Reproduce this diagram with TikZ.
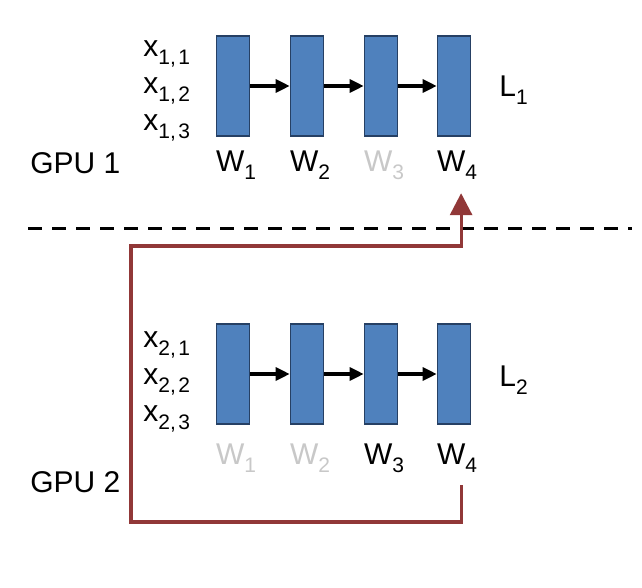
\documentclass[tikz,border=0pt]{standalone}
\usepackage{fontspec}
\setmainfont{Liberation Sans}
\usetikzlibrary{arrows.meta}
\newcommand\lsub[1]{\raisebox{-4pt}{\fontsize{10.5}{12}\selectfont #1}}

\begin{document}
\begin{tikzpicture}[x=0.5pt,y=-0.5pt,
    layer/.style={draw=myedge, fill=myblue, line width=0.8pt, minimum width=16.5pt, minimum height=50pt, inner sep=0pt},
    lbl/.style={font=\fontsize{15}{18}\selectfont, inner sep=0pt, anchor=base west},
    flow/.style={-{Triangle[length=7pt,width=6.5pt]}, line width=1.6pt},
    sync/.style={draw=myred, line width=1.6pt, -{Triangle[length=11pt,width=11pt]}}]
    \definecolor{myblue}{RGB}{79,129,189}
    \definecolor{myedge}{RGB}{38,64,100}
    \definecolor{mygray}{RGB}{200,200,200}
    \definecolor{myred}{RGB}{145,56,56}

    \useasboundingbox (0,0) rectangle (642,588);

    % layers on both GPUs
    \foreach \i/\xx in {1/233,2/307,3/381,4/454} {
        \node[layer] (a\i) at (\xx,86) {};
        \node[layer] (b\i) at (\xx,374) {};
    }
    \foreach \i/\j in {1/2,2/3,3/4} {
        \draw[flow] (a\i.east) -- (a\j.west);
        \draw[flow] (b\i.east) -- (b\j.west);
    }

    % weight labels
    \node[lbl] (wt1) at ([yshift=-17.5pt]a1.south west) {W\lsub{1}};
    \node[lbl] (wt2) at ([yshift=-17.5pt]a2.south west) {W\lsub{2}};
    \node[lbl, text=mygray] (wt3) at ([yshift=-17.5pt]a3.south west) {W\lsub{3}};
    \node[lbl] (wt4) at ([yshift=-17.5pt]a4.south west) {W\lsub{4}};
    \node[lbl, text=mygray] (wb1) at ([yshift=-20pt]b1.south west) {W\lsub{1}};
    \node[lbl, text=mygray] (wb2) at ([yshift=-20pt]b2.south west) {W\lsub{2}};
    \node[lbl] (wb3) at ([yshift=-20pt]b3.south west) {W\lsub{3}};
    \node[lbl] (wb4) at ([yshift=-20pt]b4.south west) {W\lsub{4}};

    % inputs
    \foreach \r/\yy in {1/57,2/94,3/131} {
        \node[lbl] (xa\r) at (143,\yy) {x\lsub{1,\kern1.2pt\r}};
        \node[lbl] (xb\r) at (143,\yy+290) {x\lsub{2,\kern1.2pt\r}};
    }

    \node[lbl] (loss1) at (499,97) {L\lsub{1}};
    \node[lbl] (loss2) at (499,386) {L\lsub{2}};
    \node[lbl] (gpu1) at (30,174) {GPU 1};
    \node[lbl] (gpu2) at (30,492) {GPU 2};

    \draw[line width=1.5pt, dash pattern=on 7pt off 5pt] (28,229) -- (632,229);

    % gradient sent from GPU 2 to GPU 1
    \coordinate (lo) at (131,522);
    \coordinate (hi) at (131,246);
    \draw[sync] ([xshift=2pt,yshift=-6pt]wb4.south) |- (lo) -- (hi) -| ([xshift=2pt,yshift=-6.5pt]wt4.south);
\end{tikzpicture}
\end{document}
